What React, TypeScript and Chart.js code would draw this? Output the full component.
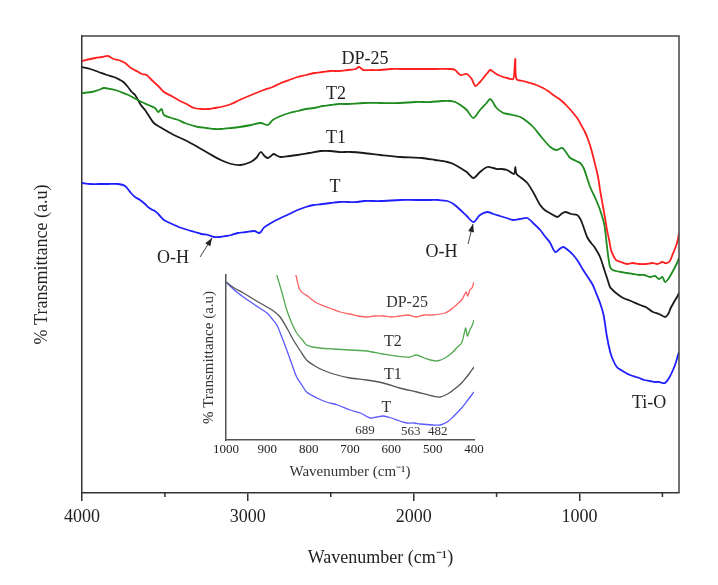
import React, { useEffect, useRef } from "react";
import { Chart, registerables } from "chart.js";
Chart.register(...registerables);

// ---------- Main spectra (wavenumber, transmittance a.u.) ----------
const dp25Wn = [4000, 3950, 3920, 3880, 3843, 3810, 3780, 3740, 3705, 3660, 3640, 3610, 3580, 3540, 3506, 3460, 3420, 3370, 3326, 3280, 3240, 3200, 3163, 3100, 3050, 2980, 2904, 2850, 2800, 2750, 2700, 2650, 2600, 2550, 2501, 2450, 2400, 2350, 2330, 2302, 2250, 2200, 2140, 2080, 2000, 1950, 1870, 1779, 1750, 1718, 1680, 1650, 1628, 1600, 1580, 1555, 1538, 1510, 1490, 1460, 1436, 1400, 1392, 1387, 1380, 1340, 1297, 1260, 1220, 1190, 1158, 1130, 1100, 1070, 1038, 1010, 990, 970, 954, 935, 920, 905, 888, 875, 860, 845, 834, 820, 810, 795, 780, 750, 713, 680, 640, 600, 560, 530, 500, 485, 472, 455, 440, 425, 412, 405, 400];
const dp25T = [432, 434, 435, 436, 437, 434, 433, 430, 425, 421, 419, 418, 413, 407, 401, 397, 393, 389, 385, 384, 384, 385, 386, 389, 393, 398, 403, 406, 410, 413, 416, 418, 420, 421, 422, 422, 423, 424, 426, 423, 423, 423, 424, 424, 424, 424, 424, 424, 423, 418, 419, 414, 407, 411, 415, 420, 423, 420, 418, 416, 415, 414, 424, 434, 414, 412, 410, 408, 405, 402, 398, 395, 391, 386, 380, 374, 368, 362, 356, 347, 338, 328, 316, 302, 288, 274, 263, 252, 243, 237, 233, 231, 229, 230, 229, 229, 230, 229, 231, 230, 230, 232, 238, 244, 250, 255, 260];

const t2Wn = [4000, 3940, 3900, 3867, 3830, 3800, 3765, 3720, 3687, 3640, 3600, 3560, 3540, 3520, 3506, 3460, 3420, 3380, 3344, 3300, 3250, 3200, 3163, 3100, 3050, 2980, 2922, 2880, 2850, 2802, 2750, 2700, 2650, 2603, 2550, 2500, 2450, 2399, 2300, 2200, 2080, 1990, 1900, 1830, 1779, 1750, 1718, 1680, 1640, 1600, 1560, 1538, 1500, 1460, 1430, 1400, 1357, 1320, 1279, 1230, 1176, 1140, 1104, 1070, 1056, 1020, 996, 975, 960, 936, 900, 876, 850, 834, 816, 800, 780, 750, 713, 680, 640, 610, 575, 545, 520, 500, 484, 465, 450, 430, 412, 405, 400];
const t2T = [400, 401, 403, 405, 404, 403, 401, 398, 395, 391, 388, 385, 381, 384, 378, 375, 373, 370, 368, 366, 365, 364, 364, 365, 366, 368, 370, 368, 373, 377, 380, 382, 384, 385, 387, 388, 389, 389, 390, 390, 390, 391, 391, 392, 392, 391, 388, 383, 375, 383, 390, 394, 385, 380, 379, 378, 376, 372, 366, 356, 346, 343, 345, 338, 335, 332, 330, 325, 318, 306, 293, 283, 268, 246, 226, 223, 222, 221, 220, 219, 218, 218, 216, 217, 214, 216, 211, 214, 218, 224, 230, 233, 235];

const t1Wn = [4000, 3950, 3900, 3850, 3807, 3770, 3750, 3723, 3700, 3680, 3645, 3620, 3600, 3567, 3530, 3500, 3446, 3380, 3302, 3230, 3163, 3100, 3043, 2983, 2950, 2922, 2900, 2880, 2860, 2844, 2820, 2802, 2750, 2700, 2630, 2561, 2500, 2450, 2380, 2302, 2200, 2080, 1950, 1870, 1797, 1760, 1718, 1680, 1640, 1600, 1556, 1520, 1500, 1470, 1436, 1395, 1387, 1380, 1350, 1315, 1280, 1237, 1210, 1180, 1134, 1110, 1086, 1050, 1014, 995, 980, 954, 930, 910, 876, 850, 830, 816, 800, 780, 737, 690, 635, 600, 557, 520, 484, 465, 450, 430, 412, 400];
const t1T = [426, 424, 421, 418, 416, 413, 411, 406, 401, 398, 388, 383, 378, 370, 366, 363, 358, 353, 346, 339, 333, 329, 328, 331, 335, 341, 337, 335, 337, 339, 337, 336, 337, 338, 340, 342, 342, 341, 341, 340, 338, 336, 335, 333, 331, 329, 325, 321, 315, 321, 326, 325, 324, 324, 323, 319, 326, 319, 315, 310, 301, 288, 283, 280, 276, 279, 281, 279, 278, 274, 268, 256, 250, 246, 236, 223, 213, 206, 203, 200, 195, 192, 188, 186, 181, 179, 176, 179, 185, 191, 196, 200];

const tWn = [4000, 3950, 3900, 3840, 3783, 3740, 3705, 3680, 3650, 3620, 3602, 3575, 3560, 3540, 3506, 3470, 3430, 3400, 3362, 3320, 3280, 3240, 3205, 3170, 3130, 3100, 3061, 3010, 2960, 2935, 2922, 2905, 2890, 2850, 2802, 2750, 2700, 2650, 2603, 2550, 2500, 2450, 2399, 2340, 2300, 2200, 2080, 1990, 1900, 1850, 1797, 1760, 1718, 1680, 1640, 1600, 1556, 1520, 1480, 1440, 1400, 1360, 1315, 1280, 1237, 1210, 1180, 1146, 1120, 1098, 1070, 1038, 1010, 978, 950, 920, 900, 876, 855, 834, 815, 798, 775, 750, 720, 695, 660, 640, 610, 575, 545, 520, 500, 484, 460, 436, 420, 406, 400];
const tT = [310, 309, 309, 309, 309, 307, 300, 296, 293, 289, 286, 283, 282, 279, 273, 270, 267, 265, 263, 261, 259, 258, 256, 256, 257, 258, 260, 261, 262, 260, 261, 265, 267, 271, 275, 279, 283, 286, 288, 289, 290, 291, 291, 291, 292, 292, 293, 293, 293, 293, 292, 289, 283, 277, 271, 278, 281, 279, 277, 275, 273, 274, 275, 270, 263, 257, 251, 241, 244, 246, 243, 238, 232, 223, 216, 208, 200, 190, 178, 156, 141, 133, 126, 123, 120, 118, 116, 115, 113, 112, 111, 111, 110, 110, 115, 123, 130, 138, 141];

// ---------- Inset spectra (1000–400 cm-1) ----------
const inDp25Wn = [870, 850, 831, 821, 800, 780, 750, 724, 700, 680, 659, 640, 620, 600, 579, 560, 540, 520, 499, 470, 451, 440, 430, 422, 419, 415, 410, 405, 400];
const inDp25T = [230, 190, 165, 150, 143, 137, 132, 128, 126, 124, 123, 124, 124, 123, 124, 125, 123, 125, 125, 127, 132, 136, 140, 146, 148, 144, 150, 152, 158];
const inT2Wn = [910, 890, 877, 865, 853, 840, 829, 815, 805, 790, 773, 740, 700, 660, 620, 590, 555, 540, 520, 505, 490, 470, 451, 440, 430, 424, 420, 416, 410, 405, 400];
const inT2T = [210, 185, 165, 148, 130, 116, 107, 100, 95, 93, 92, 91, 90, 89, 86, 84, 83, 85, 82, 80, 79, 82, 88, 93, 97, 106, 112, 104, 110, 114, 120];
const inT1Wn = [1000, 980, 958, 930, 901, 885, 869, 850, 837, 820, 805, 785, 766, 740, 700, 660, 620, 580, 538, 500, 482, 460, 441, 430, 420, 412, 400];
const inT1T = [158, 152, 147, 140, 133, 129, 123, 110, 100, 89, 80, 74, 70, 66, 62, 60, 57, 52, 48, 44, 43, 47, 53, 57, 62, 66, 73];
const inTWn = [1000, 980, 958, 930, 901, 890, 877, 865, 853, 840, 829, 815, 805, 780, 757, 730, 700, 675, 651, 635, 620, 600, 580, 563, 545, 530, 499, 482, 465, 451, 430, 415, 400];
const inTT = [158, 150, 143, 135, 127, 122, 115, 103, 90, 75, 63, 54, 48, 42, 38, 35, 30, 27, 22, 23, 24, 22, 19, 17, 17, 16, 15, 15, 18, 23, 32, 40, 48];

const xTicksMain = [4000, 3000, 2000, 1000];
const xMinorMain = [3500, 2500, 1500, 500];
const xTicksInset = [1000, 900, 800, 700, 600, 500, 400];

const mainLabels = [
  { text: "DP-25", x: 2293, y: 434 },
  { text: "T2", x: 2468, y: 399 },
  { text: "T1", x: 2468, y: 355 },
  { text: "T", x: 2474, y: 306 },
  { text: "O-H", x: 3451, y: 235 },
  { text: "O-H", x: 1832, y: 241 },
  { text: "Ti-O", x: 580, y: 90 },
];
const mainArrows = [
  { x1: 3288, y1: 236, x2: 3216, y2: 255 },
  { x1: 1672, y1: 249, x2: 1642, y2: 269 },
];
const insetLabels = [
  { text: "DP-25", x: 562, y: 137, size: 16 },
  { text: "T2", x: 596, y: 98, size: 16 },
  { text: "T1", x: 596, y: 65, size: 16 },
  { text: "T", x: 612, y: 32, size: 16 },
  { text: "689", x: 664, y: 9, size: 13 },
  { text: "563", x: 553, y: 8, size: 13 },
  { text: "482", x: 488, y: 8, size: 13 },
];

const FONT = "'Liberation Serif', 'Times New Roman', serif";

const zip = (xs: number[], ys: number[]) => xs.map((x, i) => ({ x, y: ys[i] }));

function mainPlugin() {
  return {
    id: "mainExtras",
    afterDraw(chart: any) {
      const { ctx, chartArea } = chart;
      const xs = chart.scales.x;
      const ys = chart.scales.y;
      ctx.save();
      // frame top & right
      ctx.strokeStyle = "#444";
      ctx.lineWidth = 1.5;
      ctx.beginPath();
      ctx.moveTo(chartArea.left, chartArea.top);
      ctx.lineTo(chartArea.right, chartArea.top);
      ctx.lineTo(chartArea.right, chartArea.bottom);
      ctx.stroke();
      // minor ticks
      ctx.strokeStyle = "#333";
      ctx.lineWidth = 1.5;
      xMinorMain.forEach((v) => {
        const px = xs.getPixelForValue(v);
        ctx.beginPath();
        ctx.moveTo(px, chartArea.bottom);
        ctx.lineTo(px, chartArea.bottom + 4);
        ctx.stroke();
      });
      // labels
      ctx.fillStyle = "#222";
      ctx.font = `18px ${FONT}`;
      ctx.textAlign = "center";
      ctx.textBaseline = "middle";
      mainLabels.forEach((l) => {
        ctx.fillText(l.text, xs.getPixelForValue(l.x), ys.getPixelForValue(l.y));
      });
      // arrows
      ctx.strokeStyle = "#444";
      ctx.fillStyle = "#222";
      ctx.lineWidth = 1;
      mainArrows.forEach((a) => {
        const x1 = xs.getPixelForValue(a.x1), y1 = ys.getPixelForValue(a.y1);
        const x2 = xs.getPixelForValue(a.x2), y2 = ys.getPixelForValue(a.y2);
        ctx.beginPath();
        ctx.moveTo(x1, y1);
        ctx.lineTo(x2, y2);
        ctx.stroke();
        const ang = Math.atan2(y2 - y1, x2 - x1);
        const L = 8, W = 3;
        ctx.beginPath();
        ctx.moveTo(x2, y2);
        ctx.lineTo(x2 - L * Math.cos(ang) + W * Math.sin(ang), y2 - L * Math.sin(ang) - W * Math.cos(ang));
        ctx.lineTo(x2 - L * Math.cos(ang) - W * Math.sin(ang), y2 - L * Math.sin(ang) + W * Math.cos(ang));
        ctx.closePath();
        ctx.fill();
      });
      ctx.restore();
    },
  };
}

function insetPlugin() {
  return {
    id: "insetExtras",
    afterDraw(chart: any) {
      const { ctx } = chart;
      const xs = chart.scales.x;
      const ys = chart.scales.y;
      ctx.save();
      ctx.fillStyle = "#333";
      ctx.textAlign = "center";
      ctx.textBaseline = "middle";
      insetLabels.forEach((l) => {
        ctx.font = `${l.size}px ${FONT}`;
        ctx.fillText(l.text, xs.getPixelForValue(l.x), ys.getPixelForValue(l.y));
      });
      ctx.restore();
    },
  };
}

export default function App() {
  const mainRef = useRef<HTMLCanvasElement>(null);
  const insetRef = useRef<HTMLCanvasElement>(null);

  useEffect(() => {
    Chart.defaults.font.family = FONT;
    Chart.defaults.color = "#222";
    const lineDs = (label: string, xs: number[], ys: number[], color: string, w: number) => ({
      label,
      data: zip(xs, ys),
      borderColor: color,
      backgroundColor: color,
      borderWidth: w,
      pointRadius: 0,
      tension: 0.3,
      fill: false,
    });

    const main = new Chart(mainRef.current!, {
      type: "line",
      data: {
        datasets: [
          lineDs("DP-25", dp25Wn, dp25T, "#ff1f1f", 1.8),
          lineDs("T2", t2Wn, t2T, "#1e8c1e", 1.8),
          lineDs("T1", t1Wn, t1T, "#1a1a1a", 1.8),
          lineDs("T", tWn, tT, "#1f1fff", 1.8),
        ],
      },
      options: {
        responsive: false,
        animation: false,
        events: [],
        layout: { padding: { top: 36, right: 39, left: 0, bottom: 0 } },
        plugins: { legend: { display: false }, tooltip: { enabled: false } },
        scales: {
          x: {
            type: "linear",
            reverse: true,
            min: 400,
            max: 4000,
            afterFit: (s: any) => { s.height = 92; },
            afterBuildTicks: (s: any) => { s.ticks = xTicksMain.map((v) => ({ value: v })); },
            ticks: { font: { size: 18 }, color: "#222", padding: 5, maxRotation: 0, callback: (v: any) => String(v) },
            grid: { drawOnChartArea: false, tickLength: 8, color: "#333", lineWidth: 1.5 },
            border: { display: true, color: "#333", width: 1.5 },
            title: {
              display: true,
              text: "Wavenumber (cm\u207B\u00B9)",
              font: { size: 18 },
              color: "#222",
              padding: { top: 0, bottom: 16 },
            },
          },
          y: {
            min: 0,
            max: 457,
            afterFit: (s: any) => { s.width = 82; },
            ticks: { display: false },
            grid: { display: false, drawTicks: false },
            border: { display: true, color: "#333", width: 1.5 },
            title: {
              display: true,
              text: "% Transmittance (a.u)",
              font: { size: 18 },
              color: "#222",
              padding: { top: 31, bottom: 0 },
            },
          },
        },
      },
      plugins: [mainPlugin()],
    } as any);

    const inset = new Chart(insetRef.current!, {
      type: "line",
      data: {
        datasets: [
          lineDs("DP-25", inDp25Wn, inDp25T, "#ff6262", 1.3),
          lineDs("T2", inT2Wn, inT2T, "#52a852", 1.3),
          lineDs("T1", inT1Wn, inT1T, "#555555", 1.3),
          lineDs("T", inTWn, inTT, "#5a5aff", 1.3),
        ],
      },
      options: {
        responsive: false,
        animation: false,
        events: [],
        layout: { padding: { top: 13, right: 14, left: 0, bottom: 0 } },
        plugins: { legend: { display: false }, tooltip: { enabled: false } },
        scales: {
          x: {
            type: "linear",
            reverse: true,
            min: 400,
            max: 1000,
            afterFit: (s: any) => { s.height = 47; },
            afterBuildTicks: (s: any) => { s.ticks = xTicksInset.map((v) => ({ value: v })); },
            ticks: { font: { size: 13 }, color: "#222", padding: 2, maxRotation: 0, callback: (v: any) => String(v) },
            grid: { display: false, drawTicks: false },
            border: { display: true, color: "#555", width: 1.5 },
            title: {
              display: true,
              text: "Wavenumber (cm\u207B\u00B9)",
              font: { size: 15 },
              color: "#333",
              padding: { top: 0, bottom: 6 },
            },
          },
          y: {
            min: 0,
            max: 165,
            afterFit: (s: any) => { s.width = 38; },
            ticks: { display: false },
            grid: { display: false, drawTicks: false },
            border: { display: true, color: "#555", width: 1.5 },
            title: {
              display: true,
              text: "% Transmittance (a.u)",
              font: { size: 15 },
              color: "#333",
              padding: { top: 12, bottom: 0 },
            },
          },
        },
      },
      plugins: [insetPlugin()],
    } as any);

    return () => {
      main.destroy();
      inset.destroy();
    };
  }, []);

  return (
    <div style={{ position: "fixed", left: 0, top: 0, width: 718, height: 585, background: "#fff" }}>
      <canvas ref={mainRef} width={718} height={585} style={{ position: "absolute", left: 0, top: 0, width: 718, height: 585 }} />
      <canvas ref={insetRef} width={300} height={225} style={{ position: "absolute", left: 188, top: 262, width: 300, height: 225 }} />
    </div>
  );
}
